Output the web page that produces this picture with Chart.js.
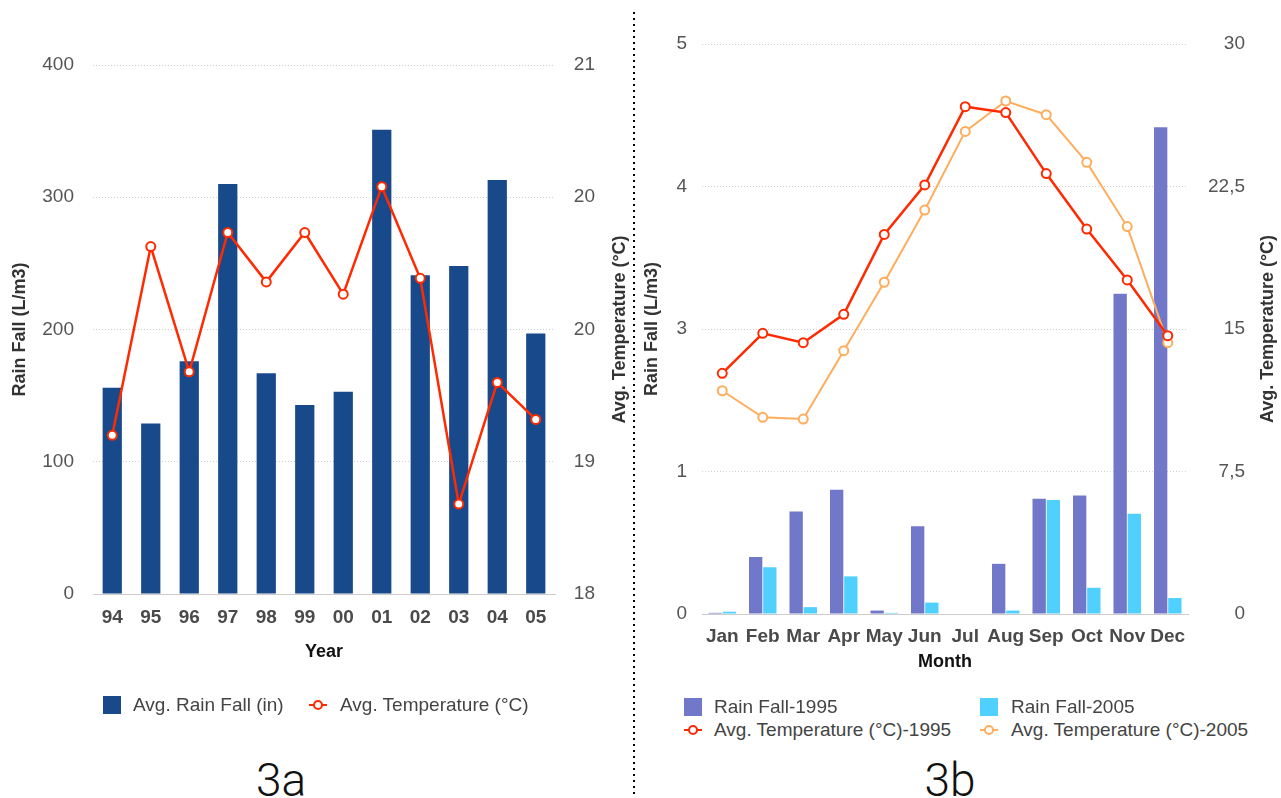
<!DOCTYPE html>
<html>
<head>
<meta charset="utf-8">
<script src="https://cdn.jsdelivr.net/npm/chart.js@4.4.1/dist/chart.umd.min.js"></script>
<style>
  html, body { margin: 0; padding: 0; background: #fff; }
  body { width: 1281px; height: 798px; position: relative; overflow: hidden; font-family: "Liberation Sans", Arial, sans-serif; }
  canvas { position: absolute; }
  #cA { left: 0; top: 0; }
  #cB { left: 640px; top: 0; }
  .divider { position: absolute; left: 633px; top: 12px; width: 2px; height: 786px;
    background: repeating-linear-gradient(to bottom, #000 0 2px, transparent 2px 6px); }
  .lg-text { position: absolute; font-size: 19px; line-height: 22px; color: #444; white-space: nowrap; }
  .lg-box { position: absolute; width: 18px; height: 18px; }
  .lg-line { position: absolute; width: 18px; height: 2px; }
  .lg-dot { position: absolute; width: 6px; height: 6px; border-radius: 50%; background: #fff; border-width: 2px; border-style: solid; }
  .panel-label { position: absolute; width: 200px; text-align: center; font-family: Roboto, Lato, "Open Sans", sans-serif; font-weight: 300; font-size: 46px; line-height: 46px; color: #111; }
</style>
</head>
<body>
<canvas id="cA" width="634" height="680"></canvas>
<canvas id="cB" width="641" height="690"></canvas>
<div class="divider"></div>
<div class="panel-label" style="left:181px; top:757px;">3a</div>
<div class="panel-label" style="left:850px; top:757px;">3b</div>
<script>
// ---------------- Chart 3a data ----------------
const years = ['94','95','96','97','98','99','00','01','02','03','04','05'];
const rainA = [156,129,176,310,167,143,153,351,241,248,313,197];
const tempA = [18.90,19.97,19.26,20.05,19.77,20.05,19.70,20.31,19.79,18.51,19.20,18.99];
const tickLabelsA_left = ['0','100','200','300','400'];
const tickLabelsA_right = ['18','19','20','20','21'];
const labelRainA = 'Avg. Rain Fall (in)';
const labelTempA = 'Avg. Temperature (°C)';
const titleA_left = 'Rain Fall (L/m3)';
const titleA_right = 'Avg. Temperature (°C)';
const titleA_x = 'Year';

// ---------------- Chart 3b data ----------------
const months = ['Jan','Feb','Mar','Apr','May','Jun','Jul','Aug','Sep','Oct','Nov','Dec'];
const rain1995 = [0.01,0.50,0.90,1.09,0.03,0.77,0,0.44,1.01,1.04,2.81,4.27];
const rain2005 = [0.02,0.41,0.06,0.33,0.01,0.10,0,0.03,1.00,0.23,0.88,0.14];
const temp1995 = [12.67,14.77,14.28,15.77,19.98,22.58,26.70,26.39,23.18,20.26,17.58,14.65];
const temp2005 = [11.75,10.35,10.26,13.86,17.46,21.26,25.40,27.00,26.28,23.77,20.39,14.28];
const tickLabelsB_left = ['0','1','3','4','5'];
const tickLabelsB_right = ['0','7,5','15','22,5','30'];
const labelRain1995 = 'Rain Fall-1995';
const labelRain2005 = 'Rain Fall-2005';
const labelTemp1995 = 'Avg. Temperature (°C)-1995';
const labelTemp2005 = 'Avg. Temperature (°C)-2005';
const titleB_left = 'Rain Fall (L/m3)';
const titleB_right = 'Avg. Temperature (°C)';
const titleB_x = 'Month';

// ---------------- styling ----------------
const FONT = '"Liberation Sans", Arial, sans-serif';
const C_BAR_A = '#184a8b';
const C_RED = '#ff2a00';
const C_PURPLE = '#7178c9';
const C_CYAN = '#4fd0ff';
const C_ORANGE = '#ffad5c';
const GRID = '#cfcfcf';

const rightTitlePlugin = {
  id: 'rightTitle',
  afterDraw(chart, args, opts) {
    const { ctx, chartArea } = chart;
    ctx.save();
    ctx.font = 'bold 18px ' + FONT;
    ctx.fillStyle = '#333';
    ctx.textAlign = 'center';
    ctx.textBaseline = 'middle';
    ctx.translate(opts.x, (chartArea.top + chartArea.bottom) / 2);
    ctx.rotate(-Math.PI / 2);
    ctx.fillText(opts.text, 0, 0);
    ctx.restore();
  }
};

function xScale(title, tickPad, titlePadBottom, height) {
  return {
    type: 'category',
    offset: true,
    grid: { display: false, drawTicks: false },
    border: { display: true, color: '#cccccc', width: 1 },
    ticks: { color: '#4a4a4a', font: { family: FONT, size: 19, weight: 'bold' }, padding: tickPad, maxRotation: 0, autoSkip: false },
    title: { display: true, text: title, color: '#111', font: { family: FONT, size: 18, weight: 'bold' }, padding: { top: 0, bottom: titlePadBottom } },
    afterFit: (s) => { s.height = height; }
  };
}

function leftScale(min, max, step, labels, title, tickPad, titlePadTop, width) {
  return {
    type: 'linear', position: 'left', min: min, max: max,
    grid: { color: GRID, lineWidth: 1, drawTicks: false },
    border: { display: false, dash: [1, 2] },
    ticks: { stepSize: step, color: '#555', font: { family: FONT, size: 19 }, padding: tickPad,
      callback: (v, i) => labels[i] },
    title: { display: true, text: title, color: '#333', font: { family: FONT, size: 18, weight: 'bold' }, padding: { top: titlePadTop, bottom: 0 } },
    afterFit: (s) => { s.width = width; }
  };
}

function rightScale(min, max, step, labels, width) {
  return {
    type: 'linear', position: 'right', min: min, max: max,
    grid: { display: false, drawTicks: false },
    border: { display: false },
    ticks: { stepSize: step, color: '#555', font: { family: FONT, size: 19 }, padding: 10, crossAlign: 'far',
      callback: (v, i) => labels[i] },
    afterFit: (s) => { s.width = width; }
  };
}

// ---------------- Chart 3a ----------------
const chartA = new Chart(document.getElementById('cA'), {
  type: 'bar',
  data: {
    labels: years,
    datasets: [
      { type: 'line', label: labelTempA, data: tempA, yAxisID: 'yR',
        borderColor: C_RED, borderWidth: 2.5, backgroundColor: '#fff',
        pointRadius: 4.5, pointBorderWidth: 2, pointBackgroundColor: '#fff', pointBorderColor: C_RED,
        tension: 0, order: 0 },
      { type: 'bar', label: labelRainA, data: rainA, yAxisID: 'y',
        backgroundColor: C_BAR_A, borderWidth: 0,
        categoryPercentage: 1.0, barPercentage: 0.5, order: 1 }
    ]
  },
  options: {
    responsive: false, animation: false,
    layout: { padding: { top: 65, left: 0, right: 39, bottom: 13 } },
    plugins: { legend: { display: false }, tooltip: { enabled: false },
      rightTitle: { text: titleA_right, x: 620 } },
    scales: {
      x: xScale(titleA_x, 12, 4, 73),
      y: leftScale(0, 400, 100, tickLabelsA_left, titleA_left, 19, 9, 93),
      yR: rightScale(18, 21, 0.75, tickLabelsA_right, 40)
    }
  },
  plugins: [rightTitlePlugin]
});

// ---------------- Chart 3b ----------------
const chartB = new Chart(document.getElementById('cB'), {
  type: 'bar',
  data: {
    labels: months,
    datasets: [
      { type: 'line', label: labelTemp1995, data: temp1995, yAxisID: 'yR',
        borderColor: C_RED, borderWidth: 2.5,
        pointRadius: 4.5, pointBorderWidth: 2, pointBackgroundColor: '#fff', pointBorderColor: C_RED,
        tension: 0, order: 0 },
      { type: 'line', label: labelTemp2005, data: temp2005, yAxisID: 'yR',
        borderColor: C_ORANGE, borderWidth: 2,
        pointRadius: 4.5, pointBorderWidth: 2, pointBackgroundColor: '#fff', pointBorderColor: C_ORANGE,
        tension: 0, order: 1 },
      { type: 'bar', label: labelRain1995, data: rain1995, yAxisID: 'y',
        backgroundColor: C_PURPLE, borderWidth: 0,
        categoryPercentage: 0.7, barPercentage: 0.94, order: 2 },
      { type: 'bar', label: labelRain2005, data: rain2005, yAxisID: 'y',
        backgroundColor: C_CYAN, borderWidth: 0,
        categoryPercentage: 0.7, barPercentage: 0.94, order: 3 }
    ]
  },
  options: {
    responsive: false, animation: false,
    layout: { padding: { top: 44, left: 0, right: 36, bottom: 13 } },
    plugins: { legend: { display: false }, tooltip: { enabled: false },
      rightTitle: { text: titleB_right, x: 628 } },
    scales: {
      x: xScale(titleB_x, 11, 4, 63),
      y: leftScale(0, 5, 1.25, tickLabelsB_left, titleB_left, 15, 1.5, 62),
      yR: rightScale(0, 30, 7.5, tickLabelsB_right, 57)
    }
  },
  plugins: [rightTitlePlugin]
});

// ---------------- HTML legends (real text) ----------------
function addEl(cls, style, text) {
  const d = document.createElement('div');
  d.className = cls;
  Object.assign(d.style, style);
  if (text !== undefined) d.textContent = text;
  document.body.appendChild(d);
  return d;
}
function legendBox(x, cy, color, text, textX) {
  addEl('lg-box', { left: x + 'px', top: (cy - 9) + 'px', background: color });
  addEl('lg-text', { left: textX + 'px', top: (cy - 11) + 'px' }, text);
}
function legendLine(x, cy, color, text, textX) {
  addEl('lg-line', { left: x + 'px', top: (cy - 1) + 'px', background: color });
  addEl('lg-dot', { left: (x + 4) + 'px', top: (cy - 5) + 'px', borderColor: color });
  addEl('lg-text', { left: textX + 'px', top: (cy - 11) + 'px' }, text);
}
legendBox(103, 705, C_BAR_A, labelRainA, 133);
legendLine(309, 705, C_RED, labelTempA, 340);

legendBox(684, 707, C_PURPLE, labelRain1995, 714);
legendBox(980, 707, C_CYAN, labelRain2005, 1011);
legendLine(684, 730, C_RED, labelTemp1995, 714);
legendLine(980, 730, C_ORANGE, labelTemp2005, 1011);
</script>
</body>
</html>
